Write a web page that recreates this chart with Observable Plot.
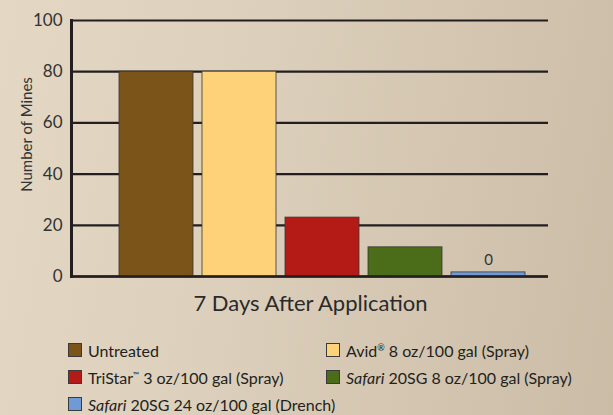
<!DOCTYPE html>
<html>
<head>
<meta charset="utf-8">
<script src="https://cdn.jsdelivr.net/npm/d3@7"></script>
<script src="https://cdn.jsdelivr.net/npm/@observablehq/plot@0.6"></script>
<style>
  html, body { margin: 0; padding: 0; }
  body {
    width: 613px; height: 415px; overflow: hidden;
    background: linear-gradient(100deg, #e4d8c5 0%, #dccfbb 40%, #cbbca6 100%);
    font-family: Lato, "Open Sans", sans-serif;
    color: #231f20;
  }
  #chart { position: absolute; left: 0; top: 0; }
  #title { position: absolute; left: 0; width: 621px; top: 289px; text-align: center; font-size: 22px; color: #2a2a2a; }
  #legend { position: absolute; left: 0; top: 0; }
  .item { position: absolute; display: flex; align-items: center; font-size: 16px; white-space: nowrap; color: #231f20; }
  .sw { width: 14px; height: 14px; border: 1px solid #3a3a3a; margin-right: 6px; box-sizing: border-box; }
</style>
</head>
<body>
<div id="chart"></div>
<div id="title">7 Days After Application</div>
<div id="legend"></div>
<script>
const categories = ["Untreated", "Avid 8 oz/100 gal (Spray)", "TriStar 3 oz/100 gal (Spray)", "Safari 20SG 8 oz/100 gal (Spray)", "Safari 20SG 24 oz/100 gal (Drench)"];
const legendHtml = ["Untreated", "Avid<sup style='font-size:9px'>®</sup> 8 oz/100 gal (Spray)", "TriStar<sup style='font-size:8px'>™</sup> 3 oz/100 gal (Spray)", "<i>Safari</i> 20SG 8 oz/100 gal (Spray)", "<i>Safari</i> 20SG 24 oz/100 gal (Drench)"];
const values = [80, 80, 23, 11.4, 1.6];
const valueLabels = ["", "", "", "", "0"];
const colors = ["#7a5419", "#fed278", "#b41b17", "#4b6c18", "#709ad6"];
const yTicks = [0, 20, 40, 60, 80, 100];

const data = categories.map((c, i) => ({category: c, value: values[i], label: valueLabels[i]}));

const plot = Plot.plot({
  width: 613,
  height: 290,
  marginLeft: 71,
  marginRight: 65,
  marginTop: 20,
  marginBottom: 14,
  style: {background: "transparent", fontFamily: "Lato, sans-serif", color: "#333"},
  x: {domain: categories, range: [113.5, 529.5], paddingInner: 0.11, paddingOuter: 0.055, axis: null},
  y: {domain: [0, 100], axis: null},
  color: {domain: categories, range: colors},
  marks: [
    Plot.ruleY(yTicks, {stroke: "#231f20", strokeWidth: 2.2}),
    Plot.barY(data, {x: "category", y: "value", fill: "category", stroke: "#3b3530", strokeWidth: 1, strokeOpacity: 0.8}),
    Plot.ruleY([0], {stroke: "#231f20", strokeWidth: 2.5}),
    Plot.frame({anchor: "left", stroke: "#231f20", strokeWidth: 3}),
    Plot.axisY({ticks: yTicks, tickSize: 0, tickPadding: 9, fontSize: 17, fill: "#333", label: null}),
    Plot.text(data, {x: "category", y: "value", text: "label", dy: -12, fontSize: 15, fill: "#333"}),
    Plot.text(["Number of Mines"], {frameAnchor: "left", textAnchor: "middle", rotate: -90, dx: -44, dy: -14, fontSize: 15, fill: "#333"})
  ]
});
document.getElementById("chart").appendChild(plot);

const pos = [[68, 341], [326, 341], [68, 368], [326, 368], [68, 395]];
const legend = document.getElementById("legend");
categories.forEach((c, i) => {
  const d = document.createElement("div");
  d.className = "item";
  d.style.left = pos[i][0] + "px";
  d.style.top = pos[i][1] + "px";
  d.style.height = "18px";
  d.innerHTML = `<span class="sw" style="background:${colors[i]}"></span><span>${legendHtml[i]}</span>`;
  legend.appendChild(d);
});
</script>
</body>
</html>
